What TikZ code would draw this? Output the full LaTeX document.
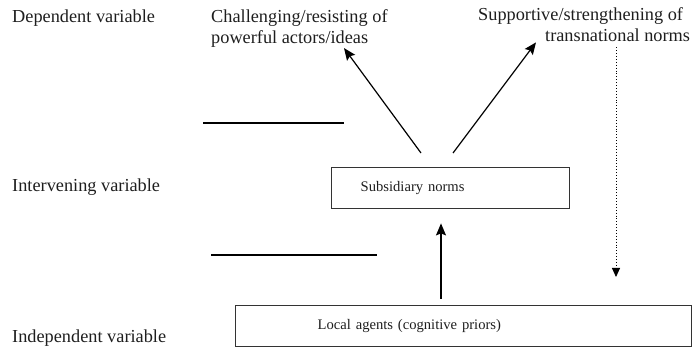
\documentclass[tikz,border=0pt]{standalone}
\usepackage{fontspec}
\setmainfont{Liberation Serif}
\usetikzlibrary{arrows.meta,positioning,calc}
\definecolor{ink}{HTML}{1E1E1E}
\definecolor{rule}{HTML}{333333}
\tikzset{
  varlabel/.style={font=\fontsize{18.3}{21}\selectfont,text=ink,inner sep=0pt,anchor=base west},
  outcome/.style={varlabel,align=left},
  box/.style={draw=rule,line width=1.4pt,font=\fontsize{14.6}{17}\selectfont,text=ink,
    anchor=north west,minimum height=41pt,align=left},
  arr/.style={-{Stealth[length=12pt,width=10pt,inset=2pt]},line width=1.2pt,draw=black},
  darr/.style={-{Triangle[length=9pt,width=8pt]},line width=0.9pt,dotted,draw=black},
  sep/.style={line width=1.2pt,draw=black},
}
\begin{document}
\begin{tikzpicture}[x=1pt,y=-1pt]
  \useasboundingbox (0,0) rectangle (694,347);
  % variable labels
  \node[varlabel] (dep) at (12,23) {Dependent variable};
  \node[varlabel] (int) at (12,192) {Intervening variable};
  \node[varlabel] (ind) at (12,343) {Independent variable};
  % outcomes
  \node[outcome] (chal) at (211,44) {Challenging/resisting of\\powerful actors/ideas};
  \node[outcome,align=right] (supp) at (478,42) {Supportive/strengthening of\hspace*{7pt}\\transnational norms};
  % boxes
  \node[box,text width=180pt,inner xsep=29pt] (sub) at (331,167) {Subsidiary norms};
  \node[box,text width=292pt,inner xsep=82pt] (local) at (235,305) {Local agents (cognitive priors)};
  % separators
  \draw[sep] (203,123) -- (344,123);
  \draw[sep] (211,255) -- (377,255);
  % arrows
  \draw[arr] ([xshift=206pt,yshift=6pt]local.north west) -- ([xshift=110pt,yshift=-14pt]sub.south west);
  \draw[arr] ([xshift=90pt,yshift=14pt]sub.north west) -- ([xshift=133pt]chal.south west);
  \draw[arr] ([xshift=122pt,yshift=14pt]sub.north west) -- ([xshift=58pt]supp.south west);
  \draw[darr] ([xshift=138pt,yshift=-5pt]supp.south west) -- ([xshift=381pt,yshift=28pt]local.north west);
\end{tikzpicture}
\end{document}
